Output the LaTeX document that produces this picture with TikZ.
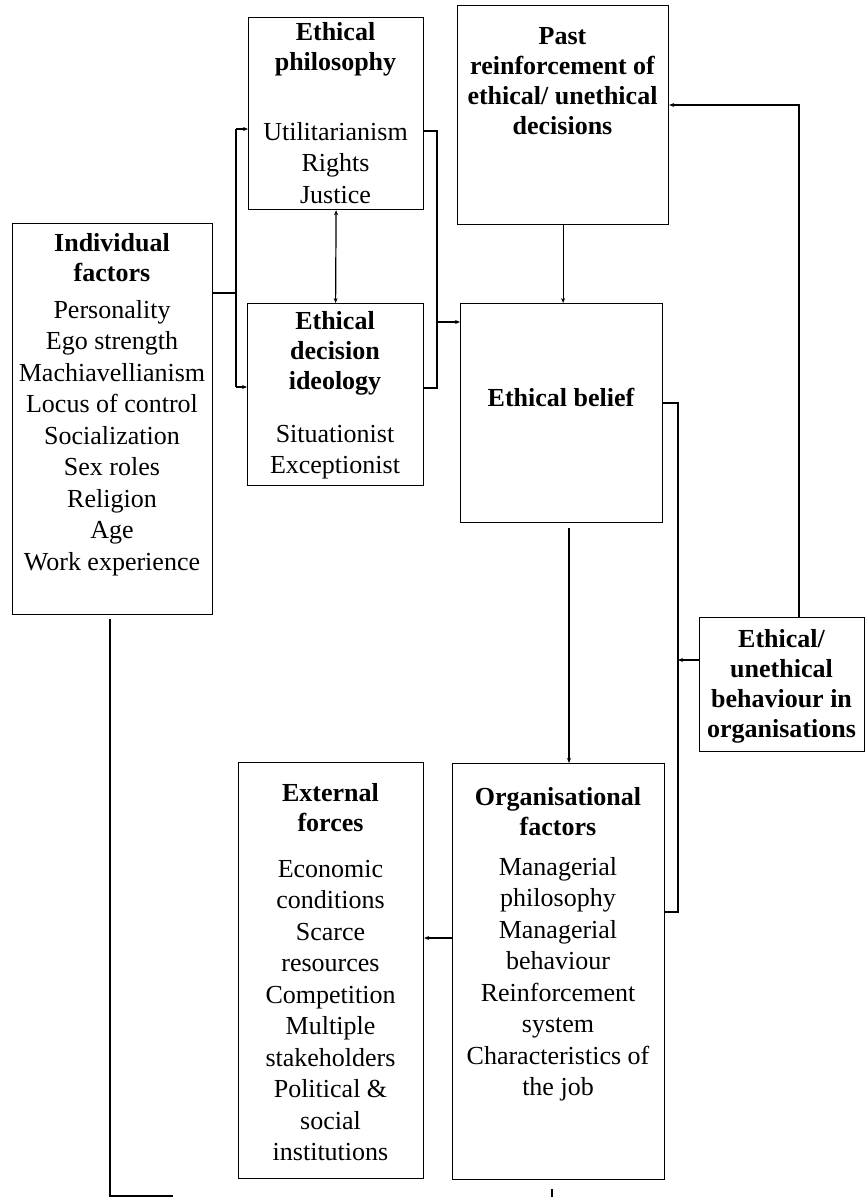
\documentclass[tikz,border=0pt]{standalone}
\usepackage{fontspec}
\setmainfont{Liberation Serif}
\usetikzlibrary{arrows.meta,calc}
\begin{document}
\begin{tikzpicture}[x=1pt,y=-1pt,
 box/.style={draw,line width=1.2pt,inner sep=0pt,anchor=north west},
 ttl/.style={font=\fontsize{26}{30}\selectfont\bfseries,align=center,inner sep=0pt},
 itm/.style={font=\fontsize{26}{31.5}\selectfont,align=center,inner sep=0pt},
 conn/.style={line width=1.2pt},
 arr/.style={conn,-{Stealth[length=5pt,width=4pt]}},
 darr/.style={conn,{Stealth[length=5pt,width=4pt]}-{Stealth[length=5pt,width=4pt]}},
]
\useasboundingbox (0,0) rectangle (866,1197);

% boxes
\node[box,minimum width=175pt,minimum height=192pt] (phil) at (248,17) {};
\node[box,minimum width=211pt,minimum height=219pt] (past) at (457,5) {};
\node[box,minimum width=200pt,minimum height=391pt] (indiv) at (12,223) {};
\node[box,minimum width=176pt,minimum height=182pt] (ideo) at (247,303) {};
\node[box,minimum width=202pt,minimum height=219pt] (belief) at (460,303) {};
\node[box,minimum width=165pt,minimum height=134pt] (ethbeh) at (699,617) {};
\node[box,minimum width=185pt,minimum height=416pt] (ext) at (238,762) {};
\node[box,minimum width=212pt,minimum height=416pt] (org) at (452,763) {};

% texts
\node[ttl] (philT) at (335.5,49) {Ethical\\philosophy};
\node[itm] (philI) at (335.5,163) {Utilitarianism\\Rights\\Justice};
\node[ttl] (pastT) at (562.5,81.5) {Past\\reinforcement of\\ethical/ unethical\\decisions};
\node[ttl] (indivT) at (112,258) {Individual\\factors};
\node[itm] (indivI) at (112,438) {Personality\\Ego strength\\Machiavellianism\\Locus of control\\Socialization\\Sex roles\\Religion\\Age\\Work experience};
\node[ttl] (ideoT) at (335,353) {Ethical\\decision\\ideology};
\node[itm] (ideoI) at (335,452) {Situationist\\Exceptionist};
\node[ttl] (beliefT) at (561,397) {Ethical belief};
\node[ttl] (ethbehT) at (781.5,686) {Ethical/\\unethical\\behaviour in\\organisations};
\node[ttl] (extT) at (330.5,808) {External\\forces};
\node[itm] (extI) at (330.5,1010.5) {Economic\\conditions\\Scarce\\resources\\Competition\\Multiple\\stakeholders\\Political \&\\social\\institutions};
\node[ttl] (orgT) at (558,812) {Organisational\\factors};
\node[itm] (orgI) at (558,979) {Managerial\\philosophy\\Managerial\\behaviour\\Reinforcement\\system\\Characteristics of\\the job};

% left bracket: individual factors -> philosophy / ideology
\coordinate (lb1) at (236,129);
\coordinate (lb2) at (236,387);
\coordinate (lbm) at (236,293);
\draw[conn] (lb1) -- (lb2);
\draw[arr] (lb1) -- (lb1 -| phil.west);
\draw[arr] (lb2) -- (lb2 -| ideo.west);
\draw[conn] (lbm -| indiv.east) -- (lbm);

% philosophy <-> ideology
\draw[darr] (phil.south) -- (ideo.north);

% right bracket -> ethical belief
\coordinate (rb1) at (437,131);
\coordinate (rb2) at (437,388);
\coordinate (rbm) at (437,322);
\draw[conn] (rb1 -| phil.east) -- (rb1) -- (rb2) -- (rb2 -| ideo.east);
\draw[arr] (rbm) -- (rbm -| belief.west);

% past reinforcement -> ethical belief
\draw[arr] (past.south) -- (past.south |- belief.north);

% behaviour -> past reinforcement
\coordinate (fb) at (799,105);
\draw[arr] (fb |- ethbeh.north) -- (fb) -- (fb -| past.east);

% belief / organisational factors bracket
\coordinate (bb1) at (678,403);
\coordinate (bb2) at (678,912);
\coordinate (bbm) at (678,660);
\draw[conn] (bb1 -| belief.east) -- (bb1) -- (bb2) -- (bb2 -| org.east);
\draw[arr] (bbm -| ethbeh.west) -- (bbm);

% belief -> organisational factors
\coordinate (bo) at (569,528);
\draw[arr] (bo) -- (bo |- org.north);

% organisational -> external
\coordinate (oe) at (0,938);
\draw[arr] (oe -| org.west) -- (oe -| ext.east);

% individual factors feedback line
\coordinate (it) at (110,619);
\coordinate (ib) at (110,1196);
\coordinate (ie) at (173,1196);
\draw[conn] (it) -- (ib) -- (ie);
\coordinate (tk1) at (552,1189);
\coordinate (tk2) at (552,1197);
\draw[conn] (tk1) -- (tk2);
\end{tikzpicture}
\end{document}
